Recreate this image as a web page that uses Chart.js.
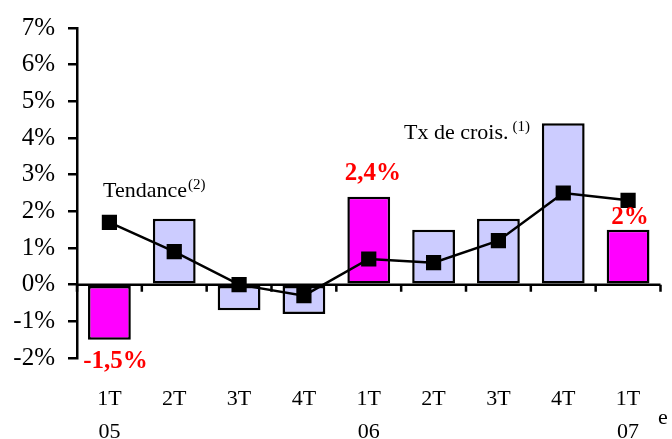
<!DOCTYPE html>
<html>
<head>
<meta charset="utf-8">
<script src="https://cdn.jsdelivr.net/npm/chart.js@4/dist/chart.umd.min.js"></script>
<style>
  body { margin: 0; background: #fff; }
  #wrap { width: 672px; height: 439px; }
</style>
</head>
<body>
<div id="wrap"><canvas id="graf" width="672" height="439"></canvas></div>
<script>
const trimestres = [["1T", "05"], "2T", "3T", "4T", ["1T", "06"], "2T", "3T", "4T", ["1T", "07"]];
const croissance = [-1.5, 1.8, -0.7, -0.8, 2.4, 1.5, 1.8, 4.4, 1.5];
const tendance = [1.7, 0.9, 0.0, -0.3, 0.7, 0.6, 1.2, 2.5, 2.3];
const etiquettes = ["-1,5%", "", "", "", "2,4%", "", "", "", "2%"];
const premierTrim = [true, false, false, false, true, false, false, false, true];

const SERIF = "'Liberation Serif', 'Times New Roman', serif";

// ligne du zero + petites graduations entre trimestres
const axeZero = {
  id: "axeZero",
  beforeDatasetsDraw(chart) {
    const { ctx, chartArea, scales } = chart;
    const y0 = scales.y.getPixelForValue(0);
    const demi = (scales.x.getPixelForValue(1) - scales.x.getPixelForValue(0)) / 2;
    ctx.save();
    ctx.strokeStyle = "#000";
    ctx.lineWidth = 2.5;
    ctx.beginPath();
    ctx.moveTo(chartArea.left, y0);
    ctx.lineTo(chartArea.right, y0);
    for (let i = 0; i <= trimestres.length; i++) {
      const x = scales.x.getPixelForValue(0) - demi + i * 2 * demi;
      ctx.moveTo(x, y0);
      ctx.lineTo(x, y0 + 7);
    }
    ctx.stroke();
    ctx.restore();
  },
};

// textes : valeurs en rouge, legendes dans le graphique
const textes = {
  id: "textes",
  afterDraw(chart) {
    const { ctx, scales } = chart;
    const barres = chart.getDatasetMeta(0).data;
    ctx.save();
    ctx.fillStyle = "#ff0000";
    ctx.font = "bold 25px " + SERIF;
    ctx.textAlign = "center";
    ctx.textBaseline = "alphabetic";
    etiquettes.forEach((t, i) => {
      if (!t) return;
      const v = croissance[i];
      const x = barres[i].x;
      let y;
      if (v < 0) y = scales.y.getPixelForValue(v) + 28;
      else if (i === 8) y = scales.y.getPixelForValue(v) - 6;
      else y = scales.y.getPixelForValue(v) - 17;
      ctx.fillText(t, x + (i === 0 ? 6 : i === 8 ? 2 : 4), y);
    });

    ctx.fillStyle = "#000";
    ctx.textAlign = "left";
    ctx.font = "22px " + SERIF;
    ctx.fillText("Tendance", 103, 197);
    let w = ctx.measureText("Tendance").width;
    ctx.fillText("Tx de crois.", 404, 139);
    let w2 = ctx.measureText("Tx de crois.").width;
    ctx.font = "15px " + SERIF;
    ctx.fillText("(2)", 103 + w + 1, 189);
    ctx.fillText("(1)", 404 + w2 + 4, 131);
    ctx.font = "22px " + SERIF;
    ctx.fillText("e", 658, 424);
    ctx.restore();
  },
};

new Chart(document.getElementById("graf"), {
  type: "bar",
  data: {
    labels: trimestres,
    datasets: [
      {
        type: "bar",
        label: "Tx de crois.",
        data: croissance,
        backgroundColor: premierTrim.map((p) => (p ? "#ff00ff" : "#ccccff")),
        borderColor: "#000",
        borderWidth: 2.5,
        borderSkipped: false,
        barPercentage: 0.66,
        categoryPercentage: 1,
        order: 2,
      },
      {
        type: "line",
        label: "Tendance",
        data: tendance,
        borderColor: "#000",
        backgroundColor: "#000",
        borderWidth: 2.5,
        pointStyle: "rect",
        pointRadius: 9,
        pointHoverRadius: 9,
        tension: 0,
        order: 1,
      },
    ],
  },
  options: {
    responsive: false,
    animation: false,
    layout: { padding: { top: 27, right: 10, left: 0, bottom: 0 } },
    plugins: {
      legend: { display: false },
      tooltip: { enabled: false },
    },
    scales: {
      x: {
        offset: true,
        border: { display: false },
        grid: { display: false },
        ticks: {
          color: "#000",
          padding: 17,
          maxRotation: 0,
          autoSkip: false,
          font: { family: SERIF, size: 22, lineHeight: 1.5 },
        },
        afterFit(scale) {
          scale.height = 81;
        },
      },
      y: {
        min: -2,
        max: 7,
        border: { display: true, color: "#000", width: 2.5 },
        grid: { drawOnChartArea: false, drawTicks: true, tickLength: 9, color: "#000", lineWidth: 2.5 },
        ticks: {
          stepSize: 1,
          color: "#000",
          padding: 13,
          font: { family: SERIF, size: 25 },
          callback: (v) => v + "%",
        },
        afterFit(scale) {
          scale.width = 77;
        },
      },
    },
  },
  plugins: [axeZero, textes],
});
</script>
</body>
</html>
